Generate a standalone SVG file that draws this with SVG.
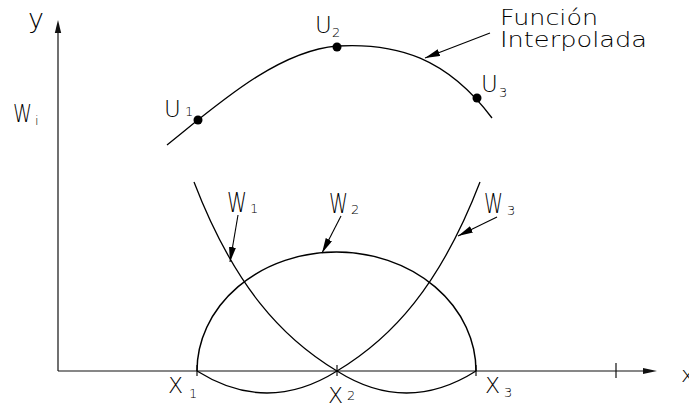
<svg xmlns="http://www.w3.org/2000/svg" width="689" height="411" viewBox="0 0 689 411">
<style>
.t{font-family:"DejaVu Sans","Liberation Sans",sans-serif;font-weight:200;fill:#000}
.crv{fill:none;stroke:#000;stroke-width:1.3}
.ax{fill:none;stroke:#111;stroke-width:1.2}
.ld{fill:none;stroke:#000;stroke-width:1.1}
.big{font-size:23px}
.sub{font-size:13px}
.lbl{font-size:21px}
</style>
<defs>
<marker id="ah" markerUnits="userSpaceOnUse" markerWidth="16" markerHeight="8" refX="15" refY="3.5" orient="auto">
<path d="M0,0 L15,3.5 L0,7 Z" fill="#000"/>
</marker>
</defs>
<rect width="689" height="411" fill="#fff"/>
<g id="axes">
<line class="ax" x1="58" y1="371" x2="58" y2="33"/>
<path d="M58,20 L61.2,33 L54.8,33 Z" fill="#111"/>
<line class="ax" x1="58" y1="371" x2="643" y2="371"/>
<path d="M657,371 L643,374 L643,368 Z" fill="#111"/>
<line class="ax" x1="616" y1="363" x2="616" y2="378"/>
<line class="ax" x1="197" y1="365" x2="197" y2="376"/>
<line class="ax" x1="337" y1="365" x2="337" y2="376"/>
<line class="ax" x1="476" y1="365" x2="476" y2="376"/>
<text class="t" x="28" y="28" style="font-size:27px">y</text>
<text class="t" x="681" y="382" style="font-size:22px">x</text>
<text class="t" x="13" y="122" style="font-size:25px" textLength="19" lengthAdjust="spacingAndGlyphs">W</text>
<text class="t sub" x="35" y="125">i</text>
</g>
<g id="funcion-interpolada">
<path class="crv" d="M167,145 C217,105 277,51 337,46 C397,42.4 447,58 492,118"/>
<circle cx="198" cy="120" r="4.5" fill="#000"/>
<circle cx="337" cy="47" r="4.5" fill="#000"/>
<circle cx="477" cy="98" r="4.5" fill="#000"/>
<text class="t lbl" x="500" y="25" textLength="98" lengthAdjust="spacingAndGlyphs">Función</text>
<text class="t lbl" x="500" y="47" textLength="147" lengthAdjust="spacingAndGlyphs">Interpolada</text>
</g>
<g id="U1">
<text class="t big" x="164" y="117">U</text>
<text class="t sub" x="185" y="116">1</text>
</g>
<g id="U2">
<text class="t big" x="315" y="33">U</text>
<text class="t sub" x="332" y="37">2</text>
</g>
<g id="U3">
<text class="t big" x="481" y="92">U</text>
<text class="t sub" x="499" y="97">3</text>
</g>
<g id="W1">
<path class="crv" d="M194,182 C234,286 282,338 337,371 Q406.5,415 476,371"/>
<text class="t" x="227" y="212" style="font-size:27px" textLength="20" lengthAdjust="spacingAndGlyphs">W</text>
<text class="t sub" x="250" y="213">1</text>
</g>
<g id="W2">
<path class="crv" style="stroke-width:1.5" d="M197,371 A139.5,119 0 0 1 476,371"/>
<text class="t" x="329" y="213" style="font-size:27px" textLength="19" lengthAdjust="spacingAndGlyphs">W</text>
<text class="t sub" x="351" y="214">2</text>
</g>
<g id="W3">
<path class="crv" d="M480,182 C440,286 392,338 337,371 Q267,415 197,371"/>
<text class="t" x="484" y="213" style="font-size:27px" textLength="19" lengthAdjust="spacingAndGlyphs">W</text>
<text class="t sub" x="507" y="215">3</text>
</g>
<g id="X1">
<text class="t" x="168" y="393" style="font-size:22px">X</text>
<text class="t sub" x="189" y="398">1</text>
</g>
<g id="X2">
<text class="t" x="328" y="403" style="font-size:22px">X</text>
<text class="t sub" x="347" y="400">2</text>
</g>
<g id="X3">
<text class="t" x="485" y="393" style="font-size:22px">X</text>
<text class="t sub" x="504" y="397">3</text>
</g>
<g id="connectors">
<line class="ld" x1="490" y1="33" x2="425" y2="58" marker-end="url(#ah)"/>
<line class="ld" x1="238" y1="215" x2="230" y2="262" marker-end="url(#ah)"/>
<line class="ld" x1="341" y1="216" x2="322" y2="253" marker-end="url(#ah)"/>
<line class="ld" x1="497" y1="217" x2="458" y2="236" marker-end="url(#ah)"/>
</g>
</svg>
